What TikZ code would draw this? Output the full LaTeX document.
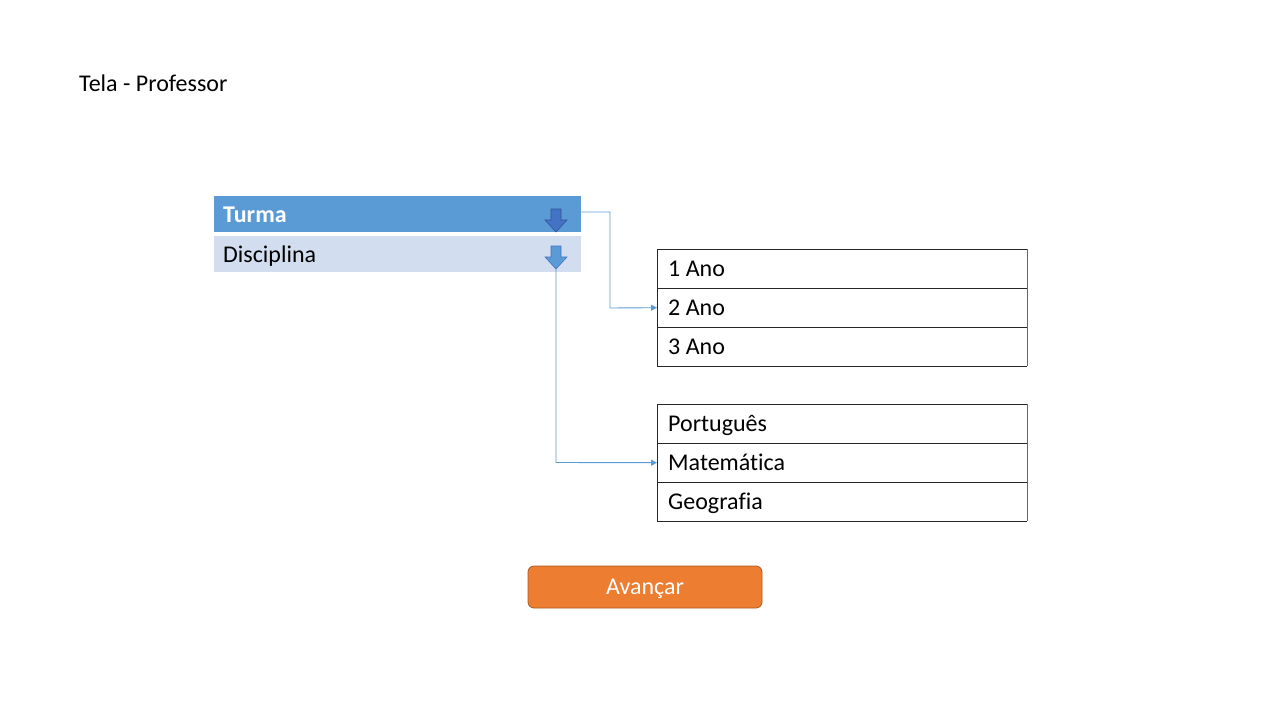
\documentclass[tikz,border=0pt]{standalone}
\usepackage{fontspec}
\setmainfont{Carlito}[Ligatures=NoCommon]
\usetikzlibrary{arrows.meta}
\definecolor{barblue}{HTML}{5B9BD5}
\definecolor{lightbar}{HTML}{D2DEEF}
\definecolor{darkarrow}{HTML}{4472C4}
\definecolor{arrowedge}{HTML}{2F5597}
\definecolor{btnorange}{HTML}{ED7D31}
\definecolor{btnedge}{HTML}{AE5A21}
\definecolor{linkblue}{HTML}{5B9BD5}
\definecolor{tableline}{HTML}{262626}
\tikzset{
  bar/.style={anchor=north west, minimum width=367pt, minimum height=36pt, inner sep=0pt, draw=none},
  cell/.style={anchor=north west, minimum width=370pt, minimum height=39pt, inner sep=0pt},
  txt/.style={anchor=base west, inner sep=0pt, font=\fontsize{24pt}{28pt}\selectfont, text=black},
  link/.style={draw=linkblue, line width=0.9pt, -{Triangle[length=6pt,width=6pt]}},
  rule/.style={draw=tableline, line width=1pt},
}
\newcommand{\blockarrow}[4]{% x, top y, fill, edge
  \fill[#3, draw=#4, line width=0.6pt] (#1-5,#2) -- (#1+5,#2) -- (#1+5,#2+11) -- (#1+11,#2+11)
     -- (#1,#2+23) -- (#1-11,#2+11) -- (#1-5,#2+11) -- cycle;}
\begin{document}
\begin{tikzpicture}[x=1pt,y=-1pt]
\useasboundingbox (0,0) rectangle (1280,720);
\fill[white] (0,0) rectangle (1280,720);

\node[txt] (title) at (79,91) {Tela - Professor};

% bars
\node[bar, fill=barblue] (turma) at (214,196) {};
\node[txt, font=\fontsize{24pt}{28pt}\selectfont\bfseries, text=white] (turmatxt) at (223,222) {Turma};
\node[bar, fill=lightbar] (disc) at (214,236) {};
\node[txt] (disctxt) at (223,262) {Disciplina};

\blockarrow{556}{209}{darkarrow}{arrowedge}
\blockarrow{556}{246}{barblue}{darkarrow}
\coordinate (darr) at (556,269);

% table 1
\node[cell] (ano1) at (657,249) {};
\node[cell] (ano2) at (657,288) {};
\node[cell] (ano3) at (657,327) {};
\node[txt] at (668,276) {1 Ano};
\node[txt] at (668,315) {2 Ano};
\node[txt] at (668,354) {3 Ano};
\draw[rule] (ano1.north west) -- (ano1.north east);
\draw[rule] (ano2.north west) -- (ano2.north east);
\draw[rule] (ano3.north west) -- (ano3.north east);
\draw[rule] (ano3.south west) -- (ano3.south east);
\draw[rule] (ano1.north west) -- (ano3.south west);
\draw[rule, draw=gray!80!black, line width=1.4pt] (ano1.north east) -- (ano3.south east);

% table 2
\node[cell] (port) at (657,404) {};
\node[cell] (mat) at (657,443) {};
\node[cell] (geo) at (657,482) {};
\node[txt] at (668,431) {Português};
\node[txt] at (668,470) {Matemática};
\node[txt] at (668,509) {Geografia};
\draw[rule] (port.north west) -- (port.north east);
\draw[rule] (mat.north west) -- (mat.north east);
\draw[rule] (geo.north west) -- (geo.north east);
\draw[rule] (geo.south west) -- (geo.south east);
\draw[rule] (port.north west) -- (geo.south west);
\draw[rule, draw=gray!80!black, line width=1.4pt] (port.north east) -- (geo.south east);

% connectors
\draw[link] (turma.east |- 0,212) -- (610,212) -- (610,308) -- (ano2.west);
\draw[link] (darr) -- (556,462.5) -- (mat.west);

% button
\node[draw=btnedge, fill=btnorange, rounded corners=6pt, line width=0.8pt, minimum width=234pt, minimum height=42pt, inner sep=0pt] (btn) at (645,587) {};
\node[txt, anchor=base, text=white] (btntxt) at (645,594) {Avançar};
\end{tikzpicture}
\end{document}
